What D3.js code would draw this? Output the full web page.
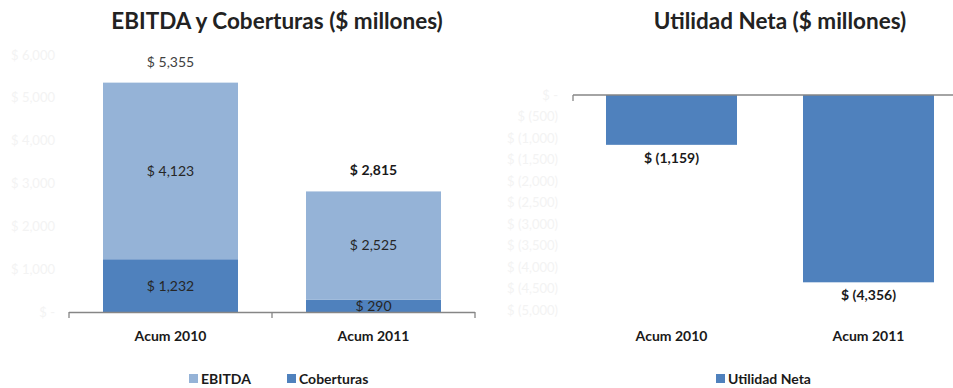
<!DOCTYPE html>
<html>
<head>
<meta charset="utf-8">
<script src="https://cdn.jsdelivr.net/npm/d3@7"></script>
<style>
  html, body { margin: 0; padding: 0; background: #fff; }
  svg { display: block; font-family: Lato, "Open Sans", sans-serif; }
</style>
</head>
<body>
<svg id="chart" width="953" height="388"></svg>
<script>
// EBITDA and hedging results (left) and net income (right), $ millions
const categories = ["Acum 2010", "Acum 2011"];
const coberturas = [1232, 290];
const ebitda = [4123, 2525];
const totales = [5355, 2815];
const utilidadNeta = [-1159, -4356];
const leftTicks = [0, 1000, 2000, 3000, 4000, 5000, 6000];
const rightTicks = [0, -500, -1000, -1500, -2000, -2500, -3000, -3500, -4000, -4500, -5000];

const colLight = "#95b3d7";
const colDark = "#4f81bd";
const axisGray = "#868686";
const textDark = "#1a1a1a";
const ghost = "#f3f3f3";

const svg = d3.select("#chart");
const fmt = d3.format(",");
const money = v => v === 0 ? "$ -" : (v < 0 ? "$ (" + fmt(-v) + ")" : "$ " + fmt(v));

// ---------- Left chart: stacked bars ----------
const xL = d3.scaleBand().domain(categories).range([69, 475]).paddingInner(0.335).paddingOuter(0.1675);
const yL = d3.scaleLinear().domain([0, 6000]).range([312, 55]);

const gL = svg.append("g");

// value axis labels, drawn very faint
gL.append("g").selectAll("text").data(leftTicks).join("text")
  .attr("x", 55).attr("y", d => yL(d)).attr("dy", "0.35em")
  .attr("text-anchor", "end").attr("font-size", 13).attr("fill", ghost)
  .text(money);

const stackData = categories.map((c, i) => ({ cat: c, cob: coberturas[i], ebi: ebitda[i] }));
const series = d3.stack().keys(["cob", "ebi"])(stackData);
const colors = { cob: colDark, ebi: colLight };

series.forEach(s => {
  gL.append("g").selectAll("rect").data(s).join("rect")
    .attr("x", d => xL(d.data.cat))
    .attr("width", xL.bandwidth())
    .attr("y", d => yL(d[1]))
    .attr("height", d => yL(d[0]) - yL(d[1]))
    .attr("fill", colors[s.key]);
  gL.append("g").selectAll("text").data(s).join("text")
    .attr("x", d => xL(d.data.cat) + xL.bandwidth() / 2)
    .attr("y", d => s.key === "cob" && (d[1] - d[0]) < 500 ? yL(d[1]) + 7 : (yL(d[0]) + yL(d[1])) / 2)
    .attr("dy", "0.35em")
    .attr("text-anchor", "middle").attr("font-size", 14).attr("fill", "#262626")
    .text(d => money(d[1] - d[0]));
});

// totals above bars
gL.append("g").selectAll("text").data(categories).join("text")
  .attr("x", d => xL(d) + xL.bandwidth() / 2)
  .attr("y", (d, i) => yL(totales[i]) - 21)
  .attr("dy", "0.35em").attr("text-anchor", "middle")
  .attr("font-size", 14)
  .attr("font-weight", (d, i) => i === 0 ? 400 : 700)
  .attr("fill", (d, i) => i === 0 ? "#404040" : textDark)
  .text((d, i) => money(totales[i]));

// category axis
gL.append("line").attr("x1", 69).attr("x2", 475).attr("y1", yL(0) + 0.5).attr("y2", yL(0) + 0.5)
  .attr("stroke", axisGray).attr("stroke-width", 1.3);
gL.append("g").selectAll("line").data([69, 69 + xL.step(), 69 + 2 * xL.step()]).join("line")
  .attr("x1", d => d).attr("x2", d => d).attr("y1", yL(0)).attr("y2", yL(0) + 6)
  .attr("stroke", axisGray).attr("stroke-width", 1.3);
gL.append("g").selectAll("text").data(categories).join("text")
  .attr("x", d => xL(d) + xL.bandwidth() / 2).attr("y", 336).attr("dy", "0.35em")
  .attr("text-anchor", "middle").attr("font-size", 14).attr("font-weight", 700).attr("fill", textDark)
  .text(d => d);

// title
svg.append("text").attr("x", 277).attr("y", 21).attr("dy", "0.35em")
  .attr("text-anchor", "middle").attr("font-size", 22.5).attr("font-weight", 700).attr("fill", "#222")
  .text("EBITDA y Coberturas ($ millones)");

// legend
const legL = [{ name: "EBITDA", color: colLight, x: 189 }, { name: "Coberturas", color: colDark, x: 287 }];
const lg = svg.append("g").selectAll("g").data(legL).join("g").attr("transform", d => `translate(${d.x},374)`);
lg.append("rect").attr("width", 9).attr("height", 9).attr("fill", d => d.color);
lg.append("text").attr("x", 12).attr("y", 5).attr("dy", "0.35em")
  .attr("font-size", 14).attr("font-weight", 700).attr("fill", textDark).text(d => d.name);

// ---------- Right chart: net income ----------
const xR = d3.scaleBand().domain(categories).range([573, 967]).paddingInner(0.335).paddingOuter(0.1675);
const yR = d3.scaleLinear().domain([-5000, 0]).range([310, 95]);

const gR = svg.append("g");

gR.append("g").selectAll("text").data(rightTicks).join("text")
  .attr("x", 558).attr("y", d => yR(d)).attr("dy", "0.35em")
  .attr("text-anchor", "end").attr("font-size", 13).attr("fill", ghost)
  .text(money);

gR.append("g").selectAll("rect").data(categories).join("rect")
  .attr("x", d => xR(d)).attr("width", xR.bandwidth())
  .attr("y", yR(0)).attr("height", (d, i) => yR(utilidadNeta[i]) - yR(0))
  .attr("fill", colDark);

gR.append("line").attr("x1", 573).attr("x2", 953).attr("y1", yR(0)).attr("y2", yR(0))
  .attr("stroke", axisGray).attr("stroke-width", 1.3);
gR.append("line").attr("x1", 573).attr("x2", 573).attr("y1", yR(0)).attr("y2", yR(0) + 6)
  .attr("stroke", axisGray).attr("stroke-width", 1.3);

gR.append("g").selectAll("text").data(categories).join("text")
  .attr("x", d => xR(d) + xR.bandwidth() / 2)
  .attr("y", (d, i) => yR(utilidadNeta[i]) + 13).attr("dy", "0.35em")
  .attr("text-anchor", "middle").attr("font-size", 14).attr("font-weight", 700).attr("fill", textDark)
  .text((d, i) => money(utilidadNeta[i]));

gR.append("g").selectAll("text").data(categories).join("text")
  .attr("x", d => xR(d) + xR.bandwidth() / 2).attr("y", 336).attr("dy", "0.35em")
  .attr("text-anchor", "middle").attr("font-size", 14).attr("font-weight", 700).attr("fill", textDark)
  .text(d => d);

svg.append("text").attr("x", 780).attr("y", 21).attr("dy", "0.35em")
  .attr("text-anchor", "middle").attr("font-size", 22.5).attr("font-weight", 700).attr("fill", "#222")
  .text("Utilidad Neta ($ millones)");

const lr = svg.append("g").attr("transform", "translate(716,374)");
lr.append("rect").attr("width", 9).attr("height", 9).attr("fill", colDark);
lr.append("text").attr("x", 12).attr("y", 5).attr("dy", "0.35em")
  .attr("font-size", 14).attr("font-weight", 700).attr("fill", textDark).text("Utilidad Neta");
</script>
</body>
</html>
